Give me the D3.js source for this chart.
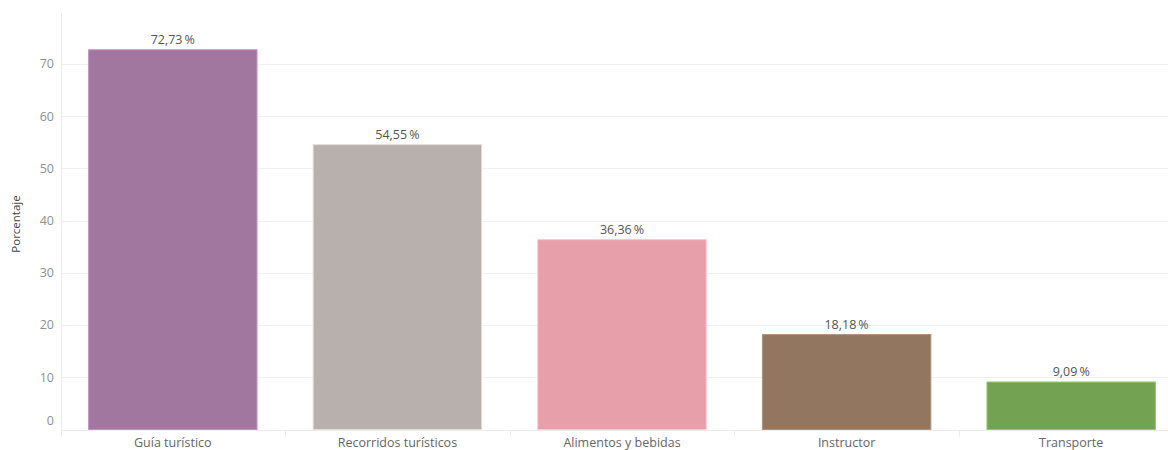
<!DOCTYPE html>
<html>
<head>
<meta charset="utf-8">
<script src="https://cdn.jsdelivr.net/npm/d3@7"></script>
<style>
  html, body { margin: 0; padding: 0; background: #fff; }
  svg { display: block; font-family: "Open Sans", Lato, sans-serif; }
</style>
</head>
<body>
<svg id="chart" width="1168" height="450"></svg>
<script>
// Servicios contratados: porcentaje por categoría
const categories = ["Guía turístico", "Recorridos turísticos", "Alimentos y bebidas", "Instructor", "Transporte"];
const values = [72.73, 54.55, 36.36, 18.18, 9.09];
const barColors = ["#a1779f", "#b8b0ad", "#e79fa9", "#927660", "#73a253"];
const yTicks = [0, 10, 20, 30, 40, 50, 60, 70];

const svg = d3.select("#chart");
const plot = { left: 60.5, right: 1183.5, top: 13, bottom: 429.5 };

const x = d3.scaleBand()
  .domain(categories)
  .range([plot.left, plot.right])
  .paddingInner(0.25)
  .paddingOuter(0.125);

const y = d3.scaleLinear()
  .domain([0, 70])
  .range([plot.bottom, 64]);

// horizontal gridlines
svg.append("g")
  .selectAll("line")
  .data(yTicks.filter(d => d > 0))
  .join("line")
  .attr("x1", plot.left + 1)
  .attr("x2", 1168)
  .attr("y1", d => Math.round(y(d)) + 0.5)
  .attr("y2", d => Math.round(y(d)) + 0.5)
  .attr("stroke", "#f0f0f0")
  .attr("stroke-width", 1);

// y axis line
svg.append("line")
  .attr("x1", 61.5).attr("x2", 61.5)
  .attr("y1", plot.top).attr("y2", 436)
  .attr("stroke", "#ececec");

// x axis baseline
svg.append("line")
  .attr("x1", 61.5).attr("x2", 1168)
  .attr("y1", 430.5).attr("y2", 430.5)
  .attr("stroke", "#ececec");

// category separators
const seps = categories.slice(1).map(c => x(c) - x.step() * x.paddingInner() / 2);
svg.append("g")
  .selectAll("line")
  .data(seps)
  .join("line")
  .attr("x1", d => Math.round(d) + 0.5)
  .attr("x2", d => Math.round(d) + 0.5)
  .attr("y1", 430).attr("y2", 437)
  .attr("stroke", "#ececec");

// y tick labels
svg.append("g")
  .selectAll("text")
  .data(yTicks)
  .join("text")
  .attr("x", 54)
  .attr("y", d => d === 0 ? y(d) - 9 : y(d))
  .attr("dy", "0.35em")
  .attr("text-anchor", "end")
  .attr("font-size", 12.5)
  .attr("fill", "#8f8f8f")
  .text(d => d);

// y axis title
svg.append("text")
  .attr("transform", "translate(20,224) rotate(-90)")
  .attr("text-anchor", "middle")
  .attr("font-size", 11.5)
  .attr("fill", "#444")
  .text("Porcentaje");

// bars
svg.append("g")
  .selectAll("rect")
  .data(values)
  .join("rect")
  .attr("x", (d, i) => x(categories[i]))
  .attr("width", x.bandwidth())
  .attr("y", d => y(d))
  .attr("height", d => y(0) - y(d))
  .attr("fill", (d, i) => barColors[i])
  .attr("stroke", (d, i) => d3.color(barColors[i]).brighter(0.6))
  .attr("stroke-width", 1);

// value labels
const fmt = v => v.toFixed(2).replace(".", ",") + "\u2009%";
svg.append("g")
  .selectAll("text")
  .data(values)
  .join("text")
  .attr("x", (d, i) => x(categories[i]) + x.bandwidth() / 2)
  .attr("y", d => y(d) - 6)
  .attr("text-anchor", "middle")
  .attr("font-size", 12.5)
  .attr("fill", "#555")
  .text(fmt);

// category labels
svg.append("g")
  .selectAll("text")
  .data(categories)
  .join("text")
  .attr("x", d => x(d) + x.bandwidth() / 2)
  .attr("y", 447)
  .attr("text-anchor", "middle")
  .attr("font-size", 12.5)
  .attr("fill", "#666")
  .text(d => d);
</script>
</body>
</html>
